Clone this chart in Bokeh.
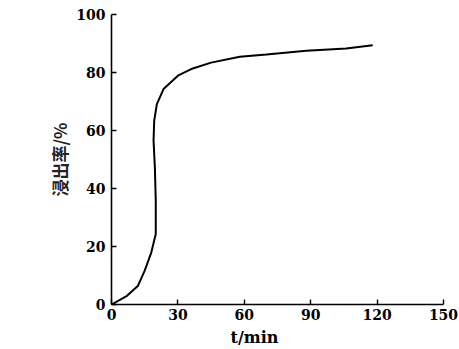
from bokeh.plotting import figure
from bokeh.models import Range1d, Title, FixedTicker
from bokeh.embed import file_html
from bokeh.resources import INLINE

time_min = [0, 7, 12, 15, 18, 20, 20, 19.6, 19, 19.3, 20.5, 23.5, 30, 36, 45, 58, 70, 88, 106, 118]
leach_rate = [0, 3, 6.5, 11.7, 18, 24.3, 35.8, 47.2, 56.5, 63.4, 69.1, 74.3, 78.9, 81.2, 83.4, 85.4, 86.2, 87.5, 88.3, 89.4]
x_ticks = [0, 30, 60, 90, 120, 150]
y_ticks = [0, 20, 40, 60, 80, 100]
y_label = "浸出率/%"
x_label = "t/min"

p = figure(width=459, height=349, output_backend="svg", toolbar_location=None,
           x_range=Range1d(0, 150), y_range=Range1d(0, 100),
           min_border_left=111, min_border_right=16, min_border_top=14, min_border_bottom=45)
p.outline_line_color = None
p.grid.visible = False
p.background_fill_color = "white"

p.line(time_min, leach_rate, line_color="black", line_width=2)

for ax in (p.xaxis[0], p.yaxis[0]):
    ax.axis_line_color = "black"
    ax.axis_line_width = 1.6
    ax.major_tick_in = 5
    ax.major_tick_out = 0
    ax.major_tick_line_width = 1.4
    ax.minor_tick_line_color = None
    ax.major_label_text_font = "DejaVu Serif"
    ax.major_label_text_font_style = "bold"
    ax.major_label_text_font_size = "14px"
    ax.major_label_text_color = "black"

p.xaxis.ticker = FixedTicker(ticks=x_ticks)
p.yaxis.ticker = FixedTicker(ticks=y_ticks)
p.xaxis.major_label_standoff = 4
p.yaxis.major_label_standoff = 6

p.yaxis.axis_label = y_label
p.yaxis.axis_label_text_font = "Noto Sans CJK SC"
p.yaxis.axis_label_text_font_style = "bold"
p.yaxis.axis_label_text_font_size = "17px"
p.yaxis.axis_label_text_color = "#222222"
p.yaxis.axis_label_standoff = 1

p.add_layout(Title(text=x_label, align="left", offset=119, standoff=6,
                   text_font="DejaVu Serif", text_font_style="bold",
                   text_font_size="16px", text_color="black"), "below")

open("out.html", "w").write(file_html(p, INLINE))
